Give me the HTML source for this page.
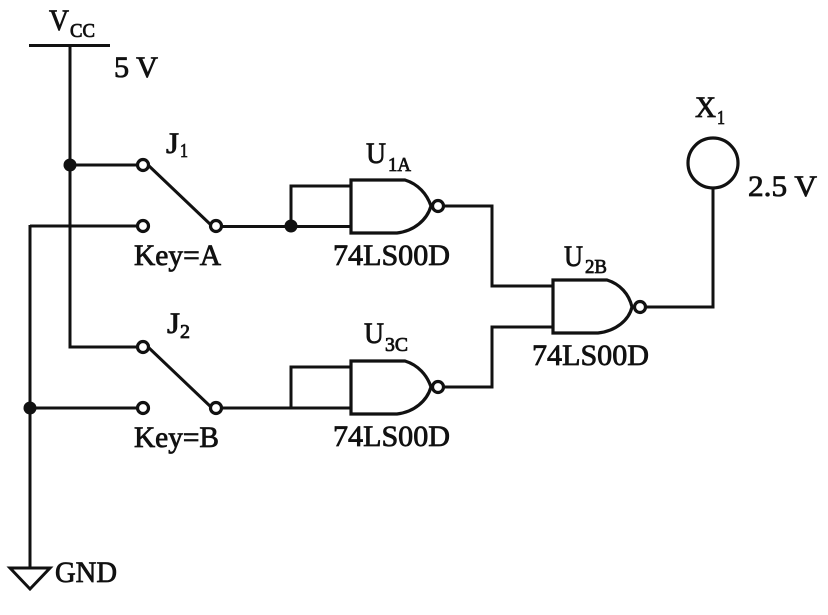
<!DOCTYPE html>
<html><head><meta charset="utf-8"><style>
html,body{margin:0;padding:0;background:#fff}
svg{display:block}
text{font-family:"Liberation Serif",serif;fill:#111;stroke:#111;stroke-width:.8px}
.m{font-size:30px}.s{font-size:20px}
</style></head><body>
<svg width="828" height="615" viewBox="0 0 828 615" xmlns="http://www.w3.org/2000/svg">
<g fill="none" stroke="#111" stroke-width="3">
<path d="M29 45.500H110"/>
<path d="M70 45V347H138"/>
<path d="M70 165H138"/>
<path d="M30 226H138M30 225V568"/>
<path d="M30 408H138"/>
<path d="M148 165L211 225"/>
<path d="M148 347L211 407"/>
<path d="M221 226.500H351"/>
<path d="M221 408H351"/>
<path d="M351 186H291V226"/>
<path d="M351 367H291V408"/>
<path d="M444 206H492V286H553"/>
<path d="M444 387H492V327H553"/>
<path d="M646 307H713V188"/>
<path d="M10 568H50L30 589Z"/>
<path d="M351 180H405C418 184 427 194 431 206C427 220 414 231 397 233H351Z" stroke-width="3.200"/>
<path d="M351 361H405C418 365 427 375 431 387C427 401 414 412 397 414H351Z" stroke-width="3.200"/>
<path d="M553 280H607C620 284 629 294 632 307C629 320 616 331 598 333H553Z" stroke-width="3.200"/>
<circle cx="713" cy="163" r="25" fill="#fff" stroke-width="3.200"/>
<g stroke-width="3.200" fill="#fff">
<circle cx="143" cy="165" r="5.500"/><circle cx="143" cy="226" r="5.500"/><circle cx="216" cy="226" r="5.500"/>
<circle cx="143" cy="347" r="5.500"/><circle cx="143" cy="408" r="5.500"/><circle cx="216" cy="408" r="5.500"/>
<circle cx="438" cy="206" r="5.500"/><circle cx="438" cy="387" r="5.500"/><circle cx="640" cy="307" r="5.500"/>
</g>
</g>
<g fill="#111">
<circle cx="70" cy="165" r="6.500"/><circle cx="30" cy="408" r="6.500"/><circle cx="291" cy="226" r="6.500"/>
</g>
<text class="m" x="49" y="30" textLength="20" lengthAdjust="spacingAndGlyphs">V</text>
<text class="s" x="70" y="37" textLength="25" lengthAdjust="spacingAndGlyphs">CC</text>
<text class="m" x="114" y="77" textLength="44" lengthAdjust="spacingAndGlyphs" xml:space="preserve">5 V</text>
<text class="m" x="166" y="153" textLength="13" lengthAdjust="spacingAndGlyphs">J</text>
<text class="s" x="180" y="157" textLength="8" lengthAdjust="spacingAndGlyphs">1</text>
<text class="m" x="134" y="265" textLength="87" lengthAdjust="spacingAndGlyphs">Key=A</text>
<text class="m" x="167" y="333" textLength="13" lengthAdjust="spacingAndGlyphs">J</text>
<text class="s" x="180" y="338" textLength="10" lengthAdjust="spacingAndGlyphs">2</text>
<text class="m" x="134" y="447" textLength="85" lengthAdjust="spacingAndGlyphs">Key=B</text>
<text class="m" x="55" y="582" textLength="62" lengthAdjust="spacingAndGlyphs">GND</text>
<text class="m" x="366" y="163" textLength="20" lengthAdjust="spacingAndGlyphs">U</text>
<text class="s" x="388" y="171" textLength="23" lengthAdjust="spacingAndGlyphs">1A</text>
<text class="m" x="333" y="265" textLength="117" lengthAdjust="spacingAndGlyphs">74LS00D</text>
<text class="m" x="364" y="343" textLength="20" lengthAdjust="spacingAndGlyphs">U</text>
<text class="s" x="385" y="351" textLength="23" lengthAdjust="spacingAndGlyphs">3C</text>
<text class="m" x="333" y="446" textLength="117" lengthAdjust="spacingAndGlyphs">74LS00D</text>
<text class="m" x="564" y="266" textLength="19" lengthAdjust="spacingAndGlyphs">U</text>
<text class="s" x="585" y="273" textLength="22" lengthAdjust="spacingAndGlyphs">2B</text>
<text class="m" x="532" y="365" textLength="117" lengthAdjust="spacingAndGlyphs">74LS00D</text>
<text class="m" x="695" y="117" textLength="21" lengthAdjust="spacingAndGlyphs">X</text>
<text class="s" x="717" y="124" textLength="8" lengthAdjust="spacingAndGlyphs">1</text>
<text class="m" x="748" y="196" textLength="69" lengthAdjust="spacingAndGlyphs" xml:space="preserve">2.5 V</text>
</svg>
</body></html>
